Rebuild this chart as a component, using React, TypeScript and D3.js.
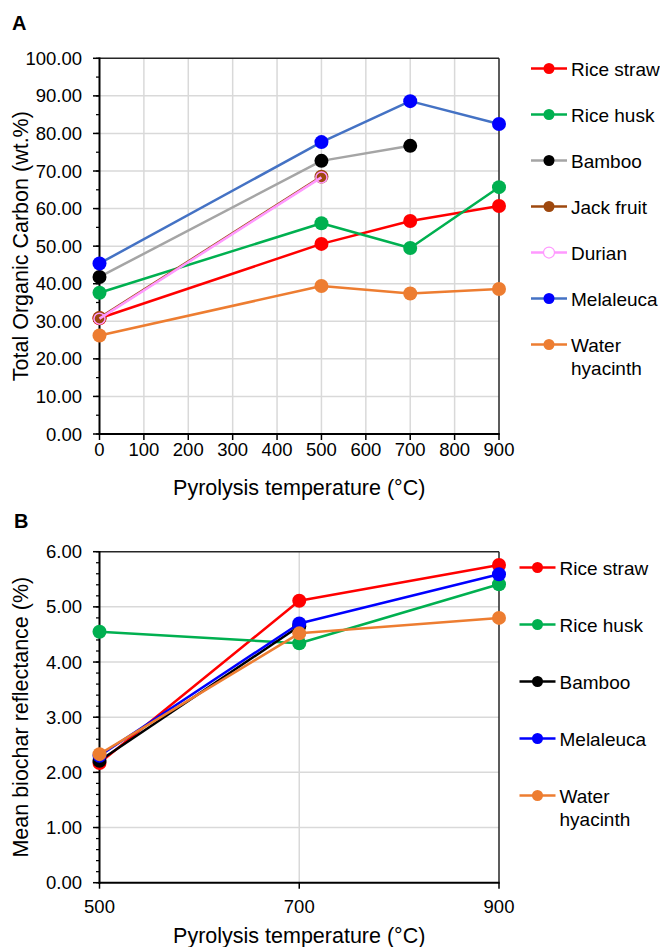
import React from "react";
import * as d3 from "d3";

// ---------- Data: panel A (Total Organic Carbon, wt.%) ----------
const tempsA = [0, 500, 700, 900];
const riceStrawA: (number | null)[] = [30.8, 50.6, 56.7, 60.7];
const riceHuskA: (number | null)[] = [37.6, 56.1, 49.5, 65.7];
const bambooA: (number | null)[] = [41.8, 72.7, 76.7, null];
const jackFruitA: (number | null)[] = [30.9, 68.5, null, null];
const durianA: (number | null)[] = [30.7, 68.3, null, null];
const melaleucaA: (number | null)[] = [45.4, 77.7, 88.6, 82.5];
const waterHyacinthA: (number | null)[] = [26.2, 39.4, 37.4, 38.6];
const xTicksA = [0, 100, 200, 300, 400, 500, 600, 700, 800, 900];
const yTicksA = [0, 10, 20, 30, 40, 50, 60, 70, 80, 90, 100];

// ---------- Data: panel B (Mean biochar reflectance, %) ----------
const tempsB = [500, 700, 900];
const riceStrawB: (number | null)[] = [2.17, 5.11, 5.76];
const riceHuskB: (number | null)[] = [4.55, 4.34, 5.41];
const bambooB: (number | null)[] = [2.21, 4.65, null];
const melaleucaB: (number | null)[] = [2.3, 4.7, 5.59];
const waterHyacinthB: (number | null)[] = [2.33, 4.52, 4.8];
const xTicksB = [500, 700, 900];
const yTicksB = [0, 1, 2, 3, 4, 5, 6];

const FONT = "'Liberation Sans', Arial, Helvetica, sans-serif";

type Series = {
  name: string[];
  values: (number | null)[];
  line: string;
  marker: string;
  hollow?: boolean;
  r?: number;
};

const seriesA: Series[] = [
  { name: ["Rice straw"], values: riceStrawA, line: "#FF0000", marker: "#FF0000" },
  { name: ["Rice husk"], values: riceHuskA, line: "#00B050", marker: "#00B050" },
  { name: ["Bamboo"], values: bambooA, line: "#A5A5A5", marker: "#000000" },
  { name: ["Jack fruit"], values: jackFruitA, line: "#9E480E", marker: "#9E480E" },
  { name: ["Durian"], values: durianA, line: "#FF99FF", marker: "#FF99FF", hollow: true, r: 5.5 },
  { name: ["Melaleuca"], values: melaleucaA, line: "#4472C4", marker: "#0000FF" },
  { name: ["Water", "hyacinth"], values: waterHyacinthA, line: "#ED7D31", marker: "#ED7D31" },
];

const seriesB: Series[] = [
  { name: ["Rice straw"], values: riceStrawB, line: "#FF0000", marker: "#FF0000" },
  { name: ["Rice husk"], values: riceHuskB, line: "#00B050", marker: "#00B050" },
  { name: ["Bamboo"], values: bambooB, line: "#000000", marker: "#000000" },
  { name: ["Melaleuca"], values: melaleucaB, line: "#0000FF", marker: "#0000FF" },
  { name: ["Water", "hyacinth"], values: waterHyacinthB, line: "#ED7D31", marker: "#ED7D31" },
];

type PanelProps = {
  label: string;
  labelY: number;
  top: number;
  bottom: number;
  xDomain: [number, number];
  yDomain: [number, number];
  xTicks: number[];
  yTicks: number[];
  minorStep: number;
  temps: number[];
  series: Series[];
  yTitle: string;
  xTickBaseline: number;
  xTitleBaseline: number;
  legendX: number;
  legendY0: number;
  legendStep: number;
};

const LEFT = 99.5;
const RIGHT = 499;

function Panel(p: PanelProps) {
  const x = d3.scaleLinear().domain(p.xDomain).range([LEFT, RIGHT]);
  const y = d3.scaleLinear().domain(p.yDomain).range([p.bottom, p.top]);
  const minor = d3.range(p.yDomain[0], p.yDomain[1] + 1e-9, p.minorStep);
  const line = d3
    .line<[number, number | null]>()
    .defined((d) => d[1] != null)
    .x((d) => x(d[0]))
    .y((d) => y(d[1] as number));

  return (
    <g>
      <text x={p.label === "A" ? 12 : 14} y={p.labelY} fontFamily={FONT} fontWeight="bold" fontSize={20}>
        {p.label}
      </text>
      {/* gridlines */}
      {p.xTicks.filter((t) => t !== p.xDomain[0] && t !== p.xDomain[1]).map((t) => (
        <line key={"gx" + t} x1={x(t)} x2={x(t)} y1={p.top} y2={p.bottom} stroke="#D9D9D9" strokeWidth={1.5} />
      ))}
      {p.yTicks.filter((t) => t !== p.yDomain[0] && t !== p.yDomain[1]).map((t) => (
        <line key={"gy" + t} x1={LEFT} x2={RIGHT} y1={y(t)} y2={y(t)} stroke="#D9D9D9" strokeWidth={1.5} />
      ))}
      {/* frame top/right */}
      <line x1={LEFT} x2={RIGHT} y1={p.top} y2={p.top} stroke="#262626" strokeWidth={1.5} />
      <line x1={RIGHT} x2={RIGHT} y1={p.top} y2={p.bottom} stroke="#262626" strokeWidth={1.5} />
      {/* minor y ticks */}
      {minor.map((t) => (
        <line key={"my" + t} x1={LEFT - 3.5} x2={LEFT} y1={y(t)} y2={y(t)} stroke="#000" strokeWidth={1.25} />
      ))}
      {/* major y ticks + labels */}
      {p.yTicks.map((t) => (
        <g key={"ty" + t}>
          <line x1={LEFT - 6.5} x2={LEFT} y1={y(t)} y2={y(t)} stroke="#000" strokeWidth={1.5} />
          <text x={82} y={y(t) + 6.5} textAnchor="end" fontFamily={FONT} fontSize={18.5} fill="#000">
            {t.toFixed(2)}
          </text>
        </g>
      ))}
      {/* x ticks + labels */}
      {p.xTicks.map((t) => (
        <g key={"tx" + t}>
          <line x1={x(t)} x2={x(t)} y1={p.bottom} y2={p.bottom + 6} stroke="#000" strokeWidth={1.5} />
          <text x={x(t)} y={p.xTickBaseline} textAnchor="middle" fontFamily={FONT} fontSize={18.5} fill="#000">
            {t}
          </text>
        </g>
      ))}
      {/* axes */}
      <line x1={LEFT} x2={LEFT} y1={p.top - 0.75} y2={p.bottom + 1} stroke="#000" strokeWidth={2} />
      <line x1={LEFT - 1} x2={RIGHT + 0.75} y1={p.bottom} y2={p.bottom} stroke="#000" strokeWidth={2} />
      {/* titles */}
      <text
        transform={`translate(28,${(p.top + p.bottom) / 2}) rotate(-90)`}
        textAnchor="middle"
        fontFamily={FONT}
        fontSize={21.5}
        fill="#000"
      >
        {p.yTitle}
      </text>
      <text x={(LEFT + RIGHT) / 2} y={p.xTitleBaseline} textAnchor="middle" fontFamily={FONT} fontSize={21.5} fill="#000">
        Pyrolysis temperature (°C)
      </text>
      {/* series */}
      {p.series.map((s, i) => {
        const pts: [number, number | null][] = p.temps.map((t, j) => [t, s.values[j]]);
        return (
          <g key={"s" + i}>
            <path d={line(pts) || ""} fill="none" stroke={s.line} strokeWidth={2.5} strokeLinejoin="round" />
            {pts
              .filter((d) => d[1] != null)
              .map((d, j) => (
                <circle
                  key={j}
                  cx={x(d[0])}
                  cy={y(d[1] as number)}
                  r={s.r ?? 7}
                  fill={s.hollow ? "none" : s.marker}
                  stroke={s.marker}
                  strokeWidth={s.hollow ? 1.5 : 0}
                />
              ))}
          </g>
        );
      })}
      {/* legend */}
      {p.series.map((s, i) => {
        const cy = p.legendY0 + i * p.legendStep;
        return (
          <g key={"l" + i}>
            <line x1={p.legendX} x2={p.legendX + 36} y1={cy} y2={cy} stroke={s.line} strokeWidth={2.5} />
            <circle
              cx={p.legendX + 18}
              cy={cy}
              r={5.5}
              fill={s.hollow ? "#fff" : s.marker}
              stroke={s.marker}
              strokeWidth={s.hollow ? 1.25 : 0}
            />
            {s.name.map((n, k) => (
              <text key={k} x={p.legendX + 40} y={cy + 7 + k * 23} fontFamily={FONT} fontSize={19} fill="#000">
                {n}
              </text>
            ))}
          </g>
        );
      })}
    </g>
  );
}

export default function App() {
  return (
    <svg
      width={660}
      height={947}
      viewBox="0 0 660 947"
      style={{ position: "absolute", left: 0, top: 0, background: "#fff" }}
    >
      <rect width={660} height={947} fill="#fff" />
      <Panel
        label="A"
        labelY={30}
        top={58.3}
        bottom={434}
        xDomain={[0, 900]}
        yDomain={[0, 100]}
        xTicks={xTicksA}
        yTicks={yTicksA}
        minorStep={5}
        temps={tempsA}
        series={seriesA}
        yTitle="Total Organic Carbon (wt.%)"
        xTickBaseline={456}
        xTitleBaseline={495}
        legendX={531}
        legendY0={68.5}
        legendStep={46}
      />
      <Panel
        label="B"
        labelY={528}
        top={551.7}
        bottom={882.7}
        xDomain={[500, 900]}
        yDomain={[0, 6]}
        xTicks={xTicksB}
        yTicks={yTicksB}
        minorStep={0.2}
        temps={tempsB}
        series={seriesB}
        yTitle="Mean biochar reflectance (%)"
        xTickBaseline={913}
        xTitleBaseline={943}
        legendX={519.5}
        legendY0={567.5}
        legendStep={57}
      />
    </svg>
  );
}
